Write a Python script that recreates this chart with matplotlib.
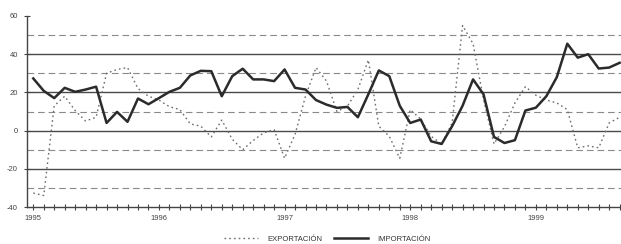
import matplotlib
matplotlib.use("Agg")
import matplotlib.pyplot as plt
import numpy as np

years = ["1995", "1996", "1997", "1998", "1999"]

importacion = [
    27.3, 20.8, 17.0, 22.4, 20.3, 21.5, 23.0, 4.0, 9.8, 4.6, 16.8, 13.8,
    17.0, 20.3, 22.4, 28.9, 31.3, 31.1, 18.0, 28.5, 32.4, 26.8, 26.8, 25.9,
    32.0, 22.4, 21.5, 16.0, 13.6, 11.9, 12.4, 7.0, 19.0, 31.5, 28.5, 13.0,
    4.0, 5.8, -5.6, -7.0, 2.3, 13.0, 26.8, 19.0, -3.3, -6.5, -5.0, 10.5,
    12.0, 18.0, 28.0, 45.5, 38.2, 40.0, 32.5, 33.0, 35.5,
]

exportacion = [
    -32.7, -34.0, 13.0, 18.0, 10.5, 5.0, 7.0, 30.0, 32.0, 33.0, 22.0, 18.0,
    16.0, 12.5, 11.0, 3.5, 2.3, -3.3, 5.5, -4.5, -10.0, -5.2, -1.2, 0.5,
    -14.5, -2.0, 18.0, 33.0, 26.0, 10.0, 12.8, 21.5, 37.0, 2.3, -3.0, -14.5,
    11.0, 6.0, -3.0, -7.0, 4.0, 55.0, 45.5, 16.3, -7.0, 2.0, 14.5, 23.0,
    18.5, 16.0, 14.5, 11.0, -9.0, -8.0, -9.0, 4.0, 7.0,
]

x = np.arange(len(importacion))

plt.rcParams['font.family'] = ['Liberation Sans', 'DejaVu Sans']

fig = plt.figure(figsize=(6.21, 2.44), dpi=100)
ax = fig.add_axes([27 / 621, 37 / 244, 1 - 27 / 621, 191 / 244])

# horizontal reference lines
for v in [-20, 0, 20, 40]:
    ax.axhline(v, color='#4a4a4a', lw=1.0, zorder=1)
for v in [-30, -10, 10, 30, 50]:
    ax.axhline(v, color='#8a8a8a', lw=0.8, dashes=(6, 3.5), zorder=1)

ax.plot(x, exportacion, color='#6e6e6e', lw=1.0, linestyle=(0, (1.2, 2.2)),
        label='EXPORTACIÓN', zorder=2)
ax.plot(x, importacion, color='#2b2b2b', lw=1.8, label='IMPORTACIÓN', zorder=3)

ax.set_ylim(-40, 60)
ax.set_xlim(-0.6, 56.13)
ax.set_yticks([-40, -20, 0, 20, 40, 60])
ax.set_yticklabels(['-40', '-20', '0', '20', '40', '60'])
ax.set_xticks([i * 12 for i in range(len(years))])
ax.set_xticklabels(years)
ax.set_xticks(np.arange(0, 57), minor=True)

for s in ['top', 'right']:
    ax.spines[s].set_visible(False)
for s in ['left', 'bottom']:
    ax.spines[s].set_color('#444444')
    ax.spines[s].set_linewidth(1.0)

ax.tick_params(axis='both', which='both', direction='inout', color='#444444',
               width=0.8, labelsize=5.5, labelcolor='#444444')
ax.tick_params(axis='x', which='both', length=5, pad=3)
ax.tick_params(axis='y', which='major', length=5, pad=4)

handles, labels = ax.get_legend_handles_labels()
leg = fig.legend(handles, labels, loc='center', ncol=2,
                 bbox_to_anchor=(327 / 621, 1 - 239 / 244), frameon=False,
                 fontsize=5.5, handlelength=4.5, columnspacing=1.5,
                 handletextpad=1.2)
for t in leg.get_texts():
    t.set_color('#333333')

fig.savefig('out.png', dpi=100)
